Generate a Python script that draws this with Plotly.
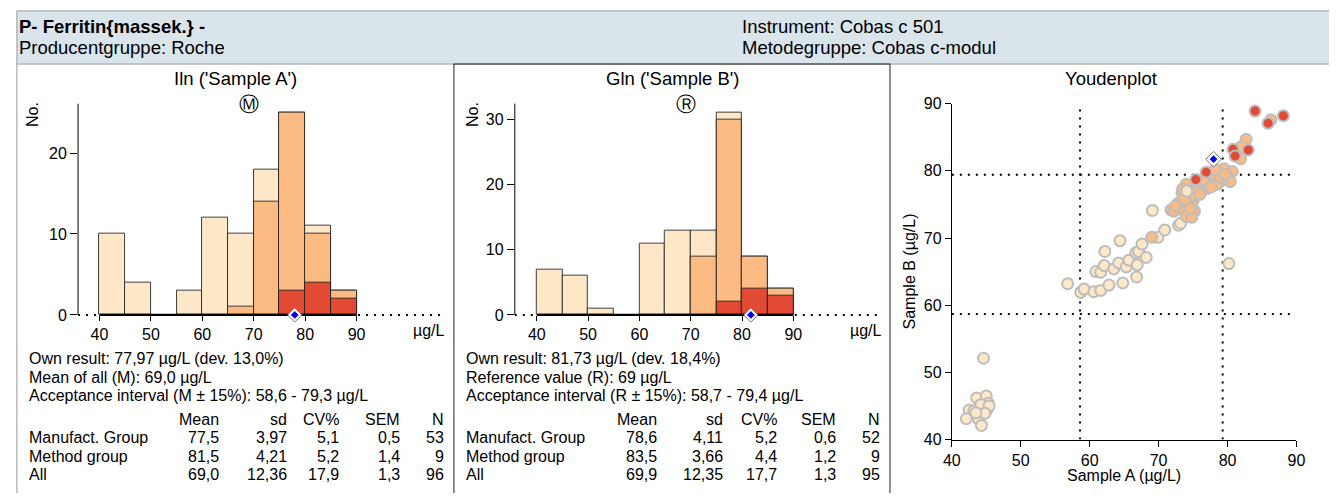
import plotly.graph_objects as go

W, H = 1338, 502

# ---------------- data ----------------
bin_left = [40, 45, 50, 55, 60, 65, 70, 75, 80, 85]
bin_width = 5
a_all    = [10, 4, 0, 3, 12, 10, 18, 25, 11, 3]
a_manuf  = [0, 0, 0, 0, 0, 1, 14, 25, 10, 3]
a_method = [0, 0, 0, 0, 0, 0, 0, 3, 4, 2]
b_all    = [7, 6, 1, 0, 11, 13, 13, 31, 9, 4]
b_manuf  = [0, 0, 0, 0, 0, 0, 9, 30, 9, 4]
b_method = [0, 0, 0, 0, 0, 0, 0, 2, 4, 3]
hist_ticks = [40, 50, 60, 70, 80, 90]
own_a = 77.97
own_b = 81.73
accept_a = [58.6, 79.3]
accept_b = [58.7, 79.4]

# Youden points: sample A, sample B, group
other_a = [44.6, 43.6, 45.0, 45.3, 42.5, 43.2, 45.1, 44.2, 42.1, 43.9, 44.3, 45.4, 44.8, 43.5,
           56.8, 58.7, 59.2, 60.6, 61.6, 62.8, 64.8, 60.9, 61.6, 62.1, 62.2, 63.5, 64.2, 64.4,
           65.3, 65.7, 66.9, 66.8, 66.7, 67.1, 67.6, 68.2, 69.1, 69.9, 70.9, 72.9, 73.2, 80.2]
other_b = [52.1, 46.2, 46.5, 45.4, 44.4, 44.3, 44.4, 45.2, 43.1, 43.0, 42.1, 45.0, 43.9, 44.0,
           63.2, 61.9, 62.4, 62.0, 62.2, 63.0, 63.3, 65.0, 64.9, 65.9, 68.0, 65.4, 66.3, 69.6,
           65.7, 66.7, 66.0, 64.2, 67.8, 68.0, 69.1, 67.1, 74.1, 70.1, 71.2, 71.9, 72.2, 66.2]
manuf_a = [69.0, 82.7, 82.0, 81.9, 80.7, 80.0, 80.4, 86.3,
           79.5, 79.2, 78.8, 78.1, 77.3, 77.8, 76.9, 75.8, 75.0, 75.0, 75.3, 76.2, 77.0, 78.5,
           79.0, 76.5, 75.6, 78.2, 77.6, 79.6, 76.0, 75.2,
           74.0, 73.4, 72.9, 71.8, 73.1, 74.0, 74.8, 72.2, 73.5, 74.5, 74.2, 73.8, 72.5, 74.6]
manuf_b = [70.1, 84.7, 83.6, 81.8, 79.9, 79.1, 78.4, 87.6,
           80.3, 78.6, 79.5, 79.8, 78.6, 78.7, 77.3, 78.0, 76.9, 75.5, 76.3, 77.5, 78.2, 78.0,
           79.0, 78.6, 77.0, 80.2, 77.6, 79.5, 76.5, 74.0,
           78.0, 76.7, 75.2, 74.2, 74.4, 73.2, 73.1, 74.0, 77.3, 76.0, 75.0, 75.8, 74.8, 74.4]
late_other_a = [74.1]
late_other_b = [77.0]
method_a = [84.0, 88.1, 85.9, 80.8, 81.1, 83.0, 76.9, 75.4]
method_b = [88.9, 88.2, 87.1, 83.2, 82.2, 83.1, 79.8, 78.7]

youden_a = other_a + manuf_a + late_other_a + method_a
youden_b = other_b + manuf_b + late_other_b + method_b
youden_grp = (["other"] * len(other_a) + ["manuf"] * len(manuf_a)
              + ["other"] * len(late_other_a) + ["method"] * len(method_a))

info_a = ["Own result: 77,97 µg/L (dev. 13,0%)", "Mean of all (M): 69,0 µg/L",
          "Acceptance interval (M ± 15%): 58,6 - 79,3 µg/L"]
info_b = ["Own result: 81,73 µg/L (dev. 18,4%)", "Reference value (R): 69 µg/L",
          "Acceptance interval (R ± 15%): 58,7 - 79,4 µg/L"]
stat_cols = ["Mean", "sd", "CV%", "SEM", "N"]
stat_rows = ["Manufact. Group", "Method group", "All"]
stats_a = [["77,5", "3,97", "5,1", "0,5", "53"],
           ["81,5", "4,21", "5,2", "1,4", "9"],
           ["69,0", "12,36", "17,9", "1,3", "96"]]
stats_b = [["78,6", "4,11", "5,2", "0,6", "52"],
           ["83,5", "3,66", "4,4", "1,2", "9"],
           ["69,9", "12,35", "17,7", "1,3", "95"]]

# ---------------- style ----------------
C_OTHER = "#fee8c8"
C_MANUF = "#fdbb84"
C_METHOD = "#e34a33"
GRP_COL = {"other": C_OTHER, "manuf": C_MANUF, "method": C_METHOD}
FONT = "Liberation Sans, Arial, sans-serif"
HDR_BG = "#dae4eb"

def fx(px):
    return px / W

def fy(py):
    return 1 - py / H

fig = go.Figure()
annotations = []
shapes = []

def ann(text, px, py, size=16, xanchor="left", yanchor="middle", angle=0, bold=False):
    annotations.append(dict(
        text=("<b>%s</b>" % text) if bold else text, x=fx(px), y=fy(py),
        xref="paper", yref="paper", showarrow=False, xanchor=xanchor, yanchor=yanchor,
        textangle=angle, font=dict(family=FONT, size=size, color="black"),
        borderpad=0, borderwidth=0))

# ---------------- histograms ----------------
hist_geo = [
    dict(ax="x", ay="y", axis_px=70, x40=91.7, x90=352.3, right=442, ymax=26.1,
         yticks=[0, 10, 20], all=a_all, manuf=a_manuf, method=a_method, own=own_a),
    dict(ax="x2", ay="y2", axis_px=512.7, x40=535, x90=795, right=885, ymax=32.4,
         yticks=[0, 10, 20, 30], all=b_all, manuf=b_manuf, method=b_method, own=own_b),
]
zero_py, top_py = 317.7, 99
centers = [l + bin_width / 2 for l in bin_left]
layout_axes = {}
for i, g in enumerate(hist_geo):
    scale = (g["x90"] - g["x40"]) / 50.0
    xmin = 40 - (g["x40"] - g["axis_px"]) / scale
    xmax = 90 + (g["right"] - g["x90"]) / scale
    yscale = (zero_py - top_py) / g["ymax"]
    ylo = -5 / yscale
    xa, ya = g["ax"], g["ay"]
    fig.add_trace(go.Scatter(x=[xmin, xmax], y=[0, 0], mode="lines", xaxis=xa, yaxis=ya,
                             line=dict(color="black", width=2, dash="2px,6px"),
                             hoverinfo="skip", showlegend=False))
    for vals, col in ((g["all"], C_OTHER), (g["manuf"], C_MANUF), (g["method"], C_METHOD)):
        fig.add_trace(go.Bar(x=centers, y=[v if v > 0 else None for v in vals], width=bin_width,
                             xaxis=xa, yaxis=ya, marker=dict(color=col,
                             line=dict(color="rgba(30,30,30,0.85)", width=1)),
                             showlegend=False))
    fig.add_trace(go.Scatter(x=[bin_left[0], bin_left[-1] + bin_width], y=[0, 0], mode="lines",
                             xaxis=xa, yaxis=ya, line=dict(color="black", width=2.2),
                             hoverinfo="skip", showlegend=False))
    fig.add_trace(go.Scatter(x=[g["own"]], y=[0], mode="markers", xaxis=xa, yaxis=ya,
                             cliponaxis=False,
                             marker=dict(symbol="diamond", size=11, color="white",
                                         line=dict(color="#777", width=1)),
                             showlegend=False))
    fig.add_trace(go.Scatter(x=[g["own"]], y=[0], mode="markers", xaxis=xa, yaxis=ya,
                             cliponaxis=False,
                             marker=dict(symbol="diamond", size=6, color="#0000ff"),
                             showlegend=False))
    xkey = "xaxis" if i == 0 else "xaxis2"
    ykey = "yaxis" if i == 0 else "yaxis2"
    layout_axes[xkey] = dict(domain=[fx(g["axis_px"]), fx(g["right"])], range=[xmin, xmax],
                             anchor="free", position=fy(zero_py), tickvals=hist_ticks,
                             ticks="outside", ticklen=5, tickcolor="black", showline=False,
                             showgrid=False, zeroline=False,
                             tickfont=dict(family=FONT, size=16, color="black"))
    layout_axes[ykey] = dict(domain=[fy(zero_py + 5), fy(top_py)], range=[ylo, g["ymax"]],
                             anchor=xa, tickvals=g["yticks"], ticks="outside", ticklen=7,
                             tickcolor="black", showline=False, showgrid=False, zeroline=False,
                             tickfont=dict(family=FONT, size=16, color="black"))
    shapes.append(dict(type="line", xref="paper", yref="paper",
                       x0=fx(g["axis_px"]), x1=fx(g["axis_px"]), y0=fy(zero_py), y1=fy(top_py),
                       line=dict(color="black", width=1)))

# ---------------- Youden plot ----------------
for lim in accept_b:
    fig.add_trace(go.Scatter(x=[40, 89.7], y=[lim, lim], mode="lines", xaxis="x3", yaxis="y3",
                             line=dict(color="black", width=2, dash="2px,6px"),
                             hoverinfo="skip", showlegend=False))
for lim in accept_a:
    fig.add_trace(go.Scatter(x=[lim, lim], y=[40, 90], mode="lines", xaxis="x3", yaxis="y3",
                             line=dict(color="black", width=2, dash="2px,6px"),
                             hoverinfo="skip", showlegend=False))
fig.add_trace(go.Scatter(x=youden_a, y=youden_b, mode="markers", xaxis="x3", yaxis="y3",
                         marker=dict(size=11, color=[GRP_COL[g] for g in youden_grp],
                                     line=dict(color="#bdbdbd", width=2)),
                         showlegend=False))
fig.add_trace(go.Scatter(x=[own_a], y=[own_b], mode="markers", xaxis="x3", yaxis="y3",
                         marker=dict(symbol="diamond", size=12, color="white",
                                     line=dict(color="#777", width=1)), showlegend=False))
fig.add_trace(go.Scatter(x=[own_a], y=[own_b], mode="markers", xaxis="x3", yaxis="y3",
                         marker=dict(symbol="diamond", size=6, color="#0000ff"), showlegend=False))

yd_axis = dict(range=[40, 90], dtick=10, ticks="outside", ticklen=6, tickcolor="black",
               showline=True, linecolor="black", linewidth=1, showgrid=False, zeroline=False,
               tickfont=dict(family=FONT, size=16, color="black"))
layout_axes["xaxis3"] = dict(domain=[fx(955.7), fx(1305)], anchor="y3", **yd_axis)
layout_axes["yaxis3"] = dict(domain=[fy(446.7), fy(99)], anchor="x3", **yd_axis)

# ---------------- frame / header ----------------
shapes += [
    dict(type="rect", xref="paper", yref="paper", x0=fx(8), x1=1, y0=fy(58), y1=fy(3),
         fillcolor=HDR_BG, line=dict(width=0), layer="below"),
    dict(type="line", xref="paper", yref="paper", x0=fx(8), x1=1, y0=fy(3), y1=fy(3),
         line=dict(color="#9a9a9a", width=1)),
    dict(type="line", xref="paper", yref="paper", x0=fx(8), x1=fx(8), y0=0, y1=fy(3),
         line=dict(color="#9a9a9a", width=1)),
    dict(type="line", xref="paper", yref="paper", x0=fx(8), x1=1, y0=fy(58), y1=fy(58),
         line=dict(color="#9a9a9a", width=1)),
    dict(type="line", xref="paper", yref="paper", x0=fx(451), x1=fx(893), y0=fy(58), y1=fy(58),
         line=dict(color="#222", width=1)),
    dict(type="line", xref="paper", yref="paper", x0=fx(451), x1=fx(451), y0=0, y1=fy(58),
         line=dict(color="#222", width=1)),
    dict(type="line", xref="paper", yref="paper", x0=fx(893), x1=fx(893), y0=0, y1=fy(58),
         line=dict(color="#222", width=1)),
]

ann("P- Ferritin{massek.} -", 10, 19, size=18.5, bold=True)
ann("Producentgruppe: Roche", 10, 41, size=18.5)
ann("Instrument: Cobas c 501", 743, 19, size=18.5)
ann("Metodegruppe: Cobas c-modul", 743, 41, size=18.5)

ann("Iln ('Sample A')", 230, 73, size=18.5, xanchor="center")
ann("Ⓜ", 243, 99, size=20, xanchor="center")
ann("Gln ('Sample B')", 673, 73, size=18.5, xanchor="center")
ann("Ⓡ", 686, 99, size=20, xanchor="center")
ann("Youdenplot", 1117, 73, size=18.5, xanchor="center")

ann("No.", 24, 110, size=16, xanchor="center", angle=-90)
ann("No.", 470, 110, size=16, xanchor="center", angle=-90)
ann("µg/L", 442, 334, size=16, xanchor="right")
ann("µg/L", 885, 334, size=16, xanchor="right")
ann("Sample A (µg/L)", 1130, 484, size=16, xanchor="center")
ann("Sample B (µg/L)", 913, 273, size=16, xanchor="center", angle=-90)

for left, cols_px, info, stats in ((20, [213, 282, 334, 396, 441], info_a, stats_a),
                                    (463, [657, 724, 778, 838, 883], info_b, stats_b)):
    for k, line in enumerate(info):
        ann(line, left, 363 + 19 * k, size=16)
    for c, name in enumerate(stat_cols):
        ann(name, cols_px[c], 426, size=16, xanchor="right")
    for r, rname in enumerate(stat_rows):
        ann(rname, left, 445 + 19 * r, size=16)
        for c, val in enumerate(stats[r]):
            ann(val, cols_px[c], 445 + 19 * r, size=16, xanchor="right")

fig.update_layout(
    width=W, height=H, margin=dict(l=0, r=0, t=0, b=0),
    paper_bgcolor="white", plot_bgcolor="rgba(0,0,0,0)",
    barmode="overlay", bargap=0, showlegend=False,
    font=dict(family=FONT, size=16, color="black"),
    annotations=annotations, shapes=shapes, **layout_axes)

post = ("var d=document.getElementById('{plot_id}');"
        "document.documentElement.style.margin='0';document.body.style.margin='0';"
        "document.documentElement.style.overflow='hidden';document.body.style.overflow='hidden';"
        "d.style.position='fixed';d.style.left='0px';d.style.top='0px';")

fig.write_html("out.html", config={"displayModeBar": False}, post_script=post)
